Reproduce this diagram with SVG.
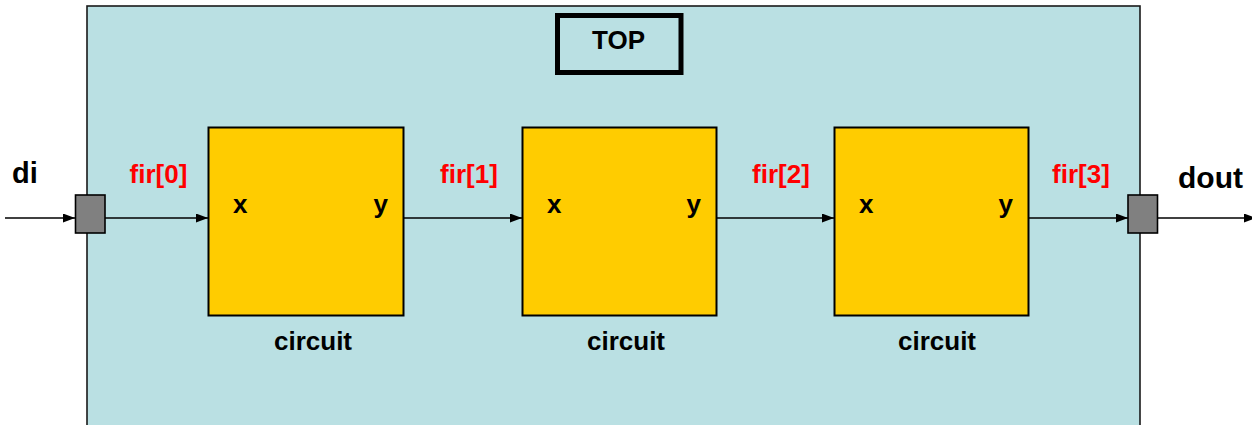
<svg xmlns="http://www.w3.org/2000/svg" width="1252" height="425" viewBox="0 0 1252 425">
<style>
.blk{fill:#FFCC00;stroke:#000;stroke-width:2}
.port{fill:#808080;stroke:#000;stroke-width:1.6}
.t{font-family:"Liberation Sans",Arial,sans-serif;font-weight:bold;fill:#000}
.sig{font-family:"Liberation Sans",Arial,sans-serif;font-weight:bold;fill:#FF0000;font-size:26px;text-anchor:middle}
.wire{stroke:#000;stroke-width:1.6;fill:none;marker-end:url(#ah)}
</style>
<defs>
<marker id="ah" markerUnits="userSpaceOnUse" markerWidth="13" markerHeight="10" refX="12" refY="4.5" orient="auto">
<path d="M0,0 L12,4.5 L0,9 Z" fill="#000"/>
</marker>
</defs>
<rect width="1252" height="425" fill="#fff"/>
<g id="top">
<rect x="87" y="6" width="1053" height="430" fill="#BAE0E3" stroke="#1a1a1a" stroke-width="1.6"/>
<rect x="557.5" y="15.5" width="123.5" height="57" fill="none" stroke="#000" stroke-width="5"/>
<text class="t" x="618.5" y="49" font-size="26" text-anchor="middle">TOP</text>
</g>
<g id="connectors">
<line class="wire" x1="5" y1="218" x2="75" y2="218"/>
<line class="wire" x1="105" y1="218" x2="208" y2="218"/>
<line class="wire" x1="404" y1="218" x2="522" y2="218"/>
<line class="wire" x1="717" y1="218" x2="834" y2="218"/>
<line class="wire" x1="1029" y1="218" x2="1128" y2="218"/>
<line class="wire" x1="1158" y1="218" x2="1256" y2="218"/>
</g>
<g id="port-di">
<rect class="port" x="75.5" y="195" width="29.5" height="38"/>
<text class="t" x="12" y="183" font-size="29">di</text>
</g>
<g id="port-dout">
<rect class="port" x="1128" y="195" width="29.5" height="38"/>
<text class="t" x="1178" y="188" font-size="30">dout</text>
</g>
<g id="circuit0">
<rect class="blk" x="208.5" y="127.5" width="195" height="188"/>
<text class="t" x="233" y="213" font-size="26">x</text>
<text class="t" x="388" y="213" font-size="26" text-anchor="end">y</text>
<text class="t" x="313" y="350" font-size="26" text-anchor="middle">circuit</text>
</g>
<g id="circuit1">
<rect class="blk" x="522.5" y="127.5" width="194" height="188"/>
<text class="t" x="547" y="213" font-size="26">x</text>
<text class="t" x="701" y="213" font-size="26" text-anchor="end">y</text>
<text class="t" x="626" y="350" font-size="26" text-anchor="middle">circuit</text>
</g>
<g id="circuit2">
<rect class="blk" x="834.5" y="127.5" width="194" height="188"/>
<text class="t" x="859" y="213" font-size="26">x</text>
<text class="t" x="1013" y="213" font-size="26" text-anchor="end">y</text>
<text class="t" x="937" y="350" font-size="26" text-anchor="middle">circuit</text>
</g>
<g id="labels">
<text class="sig" x="158.5" y="183">fir[0]</text>
<text class="sig" x="469" y="183">fir[1]</text>
<text class="sig" x="781" y="183">fir[2]</text>
<text class="sig" x="1081" y="183">fir[3]</text>
</g>
</svg>
